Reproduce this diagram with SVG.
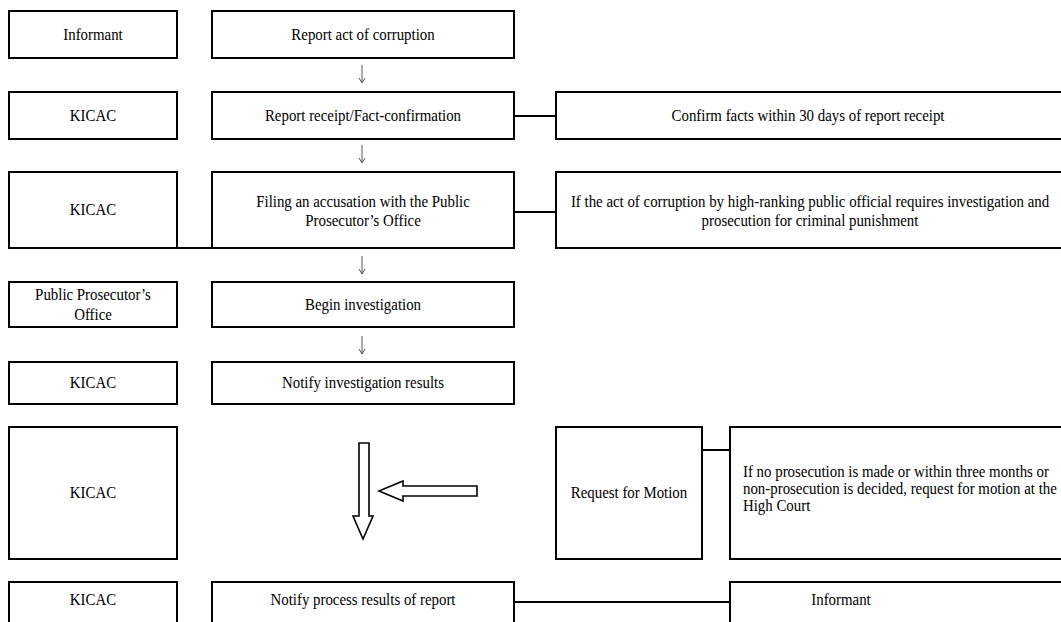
<svg xmlns="http://www.w3.org/2000/svg" width="1061" height="622" viewBox="0 0 1061 622">
<style>
.box{fill:#fff;stroke:#000;stroke-width:2}
.ln{fill:none;stroke:#000;stroke-width:2}
.t{font-family:"Liberation Serif","Times New Roman",serif;font-size:16px;fill:#000}
.c{text-anchor:middle}
.sa{fill:none;stroke:#555;stroke-width:1}
.blk{fill:#fff;stroke:#000;stroke-width:1.6;stroke-linejoin:miter}
</style>
<defs>
<marker id="ah" viewBox="0 0 8 8" refX="8" refY="4" markerWidth="8" markerHeight="8" markerUnits="userSpaceOnUse" orient="auto">
<path d="M3,1 L8,4 L3,7" fill="none" stroke="#555" stroke-width="1"/>
</marker>
</defs>
<rect width="1061" height="622" fill="#fff"/>

<g id="connectors">
<line class="ln" x1="514" y1="116" x2="556" y2="116"/>
<line class="ln" x1="514" y1="212" x2="556" y2="212"/>
<line class="ln" x1="177" y1="248" x2="212" y2="248"/>
<line class="ln" x1="702" y1="450" x2="730" y2="450"/>
<line class="ln" x1="514" y1="602" x2="730" y2="602"/>
<path class="sa" d="M362,65 V83" marker-end="url(#ah)"/>
<path class="sa" d="M362,145 V163" marker-end="url(#ah)"/>
<path class="sa" d="M362,256 V274" marker-end="url(#ah)"/>
<path class="sa" d="M362,336 V354" marker-end="url(#ah)"/>
<polygon class="blk" points="359,443 369,443 369,516 373,516 363,539 353,516 359,516"/>
<polygon class="blk" points="477,486 477,496 403,496 403,501 379,491 403,481 403,486"/>
</g>

<g id="n1-informant"><rect class="box" x="9" y="11" width="168" height="47"/><text class="t c" transform="translate(93,40) scale(0.93,1)">Informant</text></g>
<g id="n1-report"><rect class="box" x="212" y="11" width="302" height="47"/><text class="t c" transform="translate(363,40) scale(0.93,1)">Report act of corruption</text></g>

<g id="n2-kicac"><rect class="box" x="9" y="92" width="168" height="47"/><text class="t c" transform="translate(93,121) scale(0.93,1)">KICAC</text></g>
<g id="n2-receipt"><rect class="box" x="212" y="92" width="302" height="47"/><text class="t c" transform="translate(363,121) scale(0.93,1)">Report receipt/Fact-confirmation</text></g>
<g id="n2-confirm"><rect class="box" x="556" y="92" width="510" height="47"/><text class="t c" transform="translate(808,121) scale(0.93,1)">Confirm facts within 30 days of report receipt</text></g>

<g id="n3-kicac"><rect class="box" x="9" y="172" width="168" height="76"/><text class="t c" transform="translate(93,215) scale(0.93,1)">KICAC</text></g>
<g id="n3-filing"><rect class="box" x="212" y="172" width="302" height="76"/><text class="t c" transform="translate(363,207) scale(0.93,1)">Filing an accusation with the Public</text><text class="t c" transform="translate(363,226) scale(0.93,1)">Prosecutor’s Office</text></g>
<g id="n3-cond"><rect class="box" x="556" y="172" width="510" height="76"/><text class="t c" transform="translate(810,207) scale(0.93,1)">If the act of corruption by high-ranking public official requires investigation and</text><text class="t c" transform="translate(810,226) scale(0.93,1)">prosecution for criminal punishment</text></g>

<g id="n4-ppo"><rect class="box" x="9" y="282" width="168" height="45"/><text class="t c" transform="translate(93,300) scale(0.93,1)">Public Prosecutor’s</text><text class="t c" transform="translate(93,320) scale(0.93,1)">Office</text></g>
<g id="n4-begin"><rect class="box" x="212" y="282" width="302" height="45"/><text class="t c" transform="translate(363,310) scale(0.93,1)">Begin investigation</text></g>

<g id="n5-kicac"><rect class="box" x="9" y="362" width="168" height="42"/><text class="t c" transform="translate(93,388) scale(0.93,1)">KICAC</text></g>
<g id="n5-notify"><rect class="box" x="212" y="362" width="302" height="42"/><text class="t c" transform="translate(363,388) scale(0.93,1)">Notify investigation results</text></g>

<g id="n6-kicac"><rect class="box" x="9" y="427" width="168" height="132"/><text class="t c" transform="translate(93,498) scale(0.93,1)">KICAC</text></g>
<g id="n6-request"><rect class="box" x="556" y="427" width="146" height="132"/><text class="t c" transform="translate(629,498) scale(0.93,1)">Request for Motion</text></g>
<g id="n6-desc"><rect class="box" x="730" y="427" width="336" height="132"/><g transform="translate(743,0) scale(0.93,1)"><text class="t" x="0" y="477">If no prosecution is made or within three months or</text><text class="t" x="0" y="494">non-prosecution is decided, request for motion at the</text><text class="t" x="0" y="511">High Court</text></g></g>

<g id="n7-kicac"><rect class="box" x="9" y="582" width="168" height="48"/><text class="t c" transform="translate(93,605) scale(0.93,1)">KICAC</text></g>
<g id="n7-notify"><rect class="box" x="212" y="582" width="302" height="48"/><text class="t c" transform="translate(363,605) scale(0.93,1)">Notify process results of report</text></g>
<g id="n7-informant"><rect class="box" x="730" y="582" width="336" height="48"/><text class="t c" transform="translate(841,605) scale(0.93,1)">Informant</text></g>
</svg>
